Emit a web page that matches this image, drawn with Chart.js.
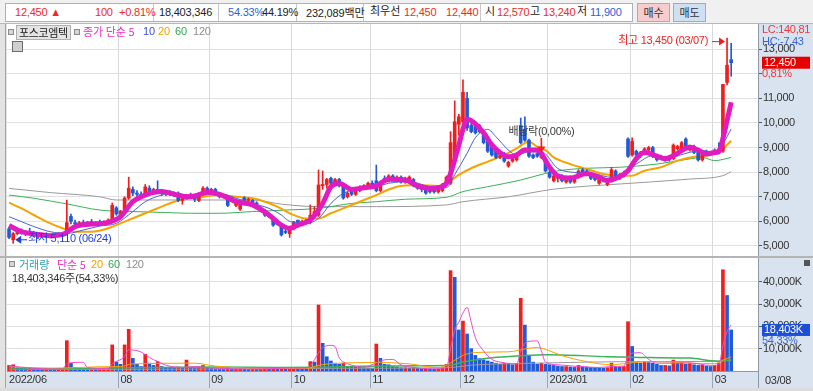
<!DOCTYPE html>
<html>
<head>
<meta charset="utf-8">
<script src="https://cdn.jsdelivr.net/npm/chart.js@4.4.0/dist/chart.umd.min.js"></script>
<style>
  body { margin: 0; width: 813px; height: 391px; overflow: hidden; position: relative; background: #ececec;
         font-family: 'Liberation Sans', 'Noto Sans CJK KR', sans-serif; font-size: 11px; letter-spacing: -0.2px; }
  .abs { position: absolute; white-space: nowrap; }
  #top { position: absolute; left: 0; top: 0; width: 813px; height: 23px; background: #f0f0f0; border-bottom: 1px solid #b8b8b8; }
  .fld { position: absolute; top: 3px; height: 17px; background: #fff; border: 1px solid #a9b3bf; }
  .sep { position: absolute; top: 4px; width: 1px; height: 17px; background: #c8c8c8; }
  .t { position: absolute; top: 6px; line-height: 13px; white-space: nowrap; }
  .r { color: #ee2a24; } .b { color: #2b5fd9; } .k { color: #222; }
  .btn { position: absolute; top: 3px; width: 31px; height: 17px; line-height: 17px; text-align: center; font-family: 'Noto Sans CJK KR', sans-serif; font-size: 11px; color: #333; }
  .kr { font-family: 'Noto Sans CJK KR', sans-serif; font-size: 11px; letter-spacing: 0; }
  .lg { position: absolute; line-height: 14px; font-size: 11px; white-space: nowrap; }
  .sq { position: absolute; width: 4px; height: 4px; border: 1px solid #8a8a8a; background: #d6d6d6; }
  canvas { position: absolute; left: 0; }
</style>
</head>
<body>
<div id="top">
  <div class="fld" style="left:5px;width:626px"></div>
  <div class="sep" style="left:153px"></div>
  <div class="sep" style="left:218px"></div>
  <div class="sep" style="left:296px"></div>
  <div class="sep" style="left:363px"></div>
  <div class="sep" style="left:480px"></div>
  <span class="t r" style="left:15px">12,450 ▲</span>
  <span class="t r" style="left:95px">100</span>
  <span class="t r" style="left:119px">+0.81%</span>
  <span class="t k" style="left:159px">18,403,346</span>
  <span class="t b" style="left:228px">54.33%</span>
  <span class="t k" style="left:262px">44.19%</span>
  <span class="t k" style="left:306px">232,089<span class="kr">백만</span></span>
  <span class="t k kr" style="left:370px;top:4px">최우선</span>
  <span class="t r" style="left:404px">12,450</span>
  <span class="t r" style="left:446px">12,440</span>
  <span class="t k kr" style="left:485px;top:4px">시</span>
  <span class="t r" style="left:497px">12,570</span>
  <span class="t k kr" style="left:530px;top:4px">고</span>
  <span class="t r" style="left:543px">13,240</span>
  <span class="t k kr" style="left:577px;top:4px">저</span>
  <span class="t b" style="left:590px">11,900</span>
  <div class="btn" style="left:637px;background:#f6cccc;border:1px solid #d59a9a">매수</div>
  <div class="btn" style="left:673px;background:#cfe0f3;border:1px solid #8fb0d6">매도</div>
</div>

<canvas id="price" width="813" height="232" style="top:24px"></canvas>
<div class="abs" style="left:0;top:256px;width:813px;height:2px;background:#b4b4b4"></div>
<canvas id="volume" width="813" height="130" style="top:258px"></canvas>
<div class="abs" style="left:0;top:388px;width:813px;height:3px;background:#dcdcdc"></div>

<!-- price panel legend -->
<div class="sq" style="left:8px;top:29px"></div>
<div class="lg kr" style="left:16px;top:25px;height:13px;line-height:13px;padding:0 2px;background:#e4e4e4;border:1px solid #b0b0b0;color:#222;letter-spacing:-0.4px">포스코엠텍</div>
<div class="sq" style="left:74px;top:29px"></div>
<div class="lg kr" style="left:83px;top:24px;color:#e62ec8">종가 단순 5</div>
<div class="lg" style="left:143px;top:24px;color:#3553c9">10</div>
<div class="lg" style="left:158px;top:24px;color:#f0a000">20</div>
<div class="lg" style="left:175px;top:24px;color:#2fa84f">60</div>
<div class="lg" style="left:193px;top:24px;color:#8c8c8c">120</div>
<div class="abs" style="left:12px;top:41px;width:9px;height:9px;border:1px solid #6e6e6e;background:#cfcfcf"></div>

<!-- volume panel legend -->
<div class="sq" style="left:9px;top:261px"></div>
<div class="lg kr" style="left:19px;top:257px;color:#2f9fae">거래량</div>
<div class="lg kr" style="left:57px;top:257px;color:#e62ec8">단순 5</div>
<div class="lg" style="left:91px;top:257px;color:#f0a000">20</div>
<div class="lg" style="left:108px;top:257px;color:#2fa84f">60</div>
<div class="lg" style="left:126px;top:257px;color:#8c8c8c">120</div>
<div class="lg" style="left:12px;top:270px;color:#333">18,403,346<span class="kr">주</span>(54,33%)</div>
<div class="abs" style="left:804px;top:260px;width:6px;height:6px;background:#555"></div>

<script>
const FONT = "'Liberation Sans', 'Noto Sans CJK KR', sans-serif";
const RED = '#f01e1e';
const BLUE = '#1f5ad8';

// trading days 2022-06-23 .. 2023-03-08 (KRX holidays removed)
const holidays = ['2022-08-15', '2022-09-09', '2022-09-12', '2022-10-03', '2022-10-10',
  '2022-12-30', '2023-01-23', '2023-01-24', '2023-03-01'];
const dates = [];
for (let d = new Date(Date.UTC(2022, 5, 23)); d <= new Date(Date.UTC(2023, 2, 8)); d.setUTCDate(d.getUTCDate() + 1)) {
  const iso = d.toISOString().slice(0, 10);
  const wd = d.getUTCDay();
  if (wd === 0 || wd === 6 || holidays.includes(iso)) continue;
  dates.push(iso);
}
const emptySlots = ['e1', 'e2', 'e3', 'e4', 'e5', 'e6'];
const labels = dates.concat(emptySlots);

// daily candles (KRW) and volume (thousand shares)
const open = [
  5700, 5250, 5500, 5600, 5500, 5600, 5500, 5450, 5400, 5480, 5380, 5430, 5450, 5420, 5550, 6200, 5950, 5880, 5950, 5900,
  6000, 5920, 5960, 5900, 5990, 6050, 6550, 6300, 6450, 6950, 7300, 7150, 7100, 7050, 7350, 7200, 7300, 7200, 7150, 7200,
  7100, 7150, 6850, 6950, 7050, 7000, 6850, 7100, 7350, 7250, 7300, 7100, 7000, 7000, 6950, 6650, 6500, 6950, 6850, 6850,
  6750, 6550, 6450, 6300, 6050, 5950, 5800, 5600, 5500, 5700, 6050, 5950, 6050, 5950, 6250, 6250, 7450, 7500, 7750, 7550,
  7700, 7450, 7000, 7250, 7100, 7250, 7400, 7400, 7550, 7650, 7250, 7750, 7650, 7850, 7650, 7800, 7600, 7700, 7700, 7450,
  7400, 7350, 7300, 7400, 7200, 7250, 7500, 7550, 8500, 9950, 10050, 11000, 9900, 9950, 9900, 9500, 9250, 9100, 8900, 8600,
  8750, 8250, 8450, 8500, 9900, 9750, 9300, 8700, 8750, 8600, 8500, 8000, 7650, 7750, 7850, 7600, 7800, 7600, 7800, 8100,
  8050, 7900, 7800, 7550, 7750, 7500, 7650, 8050, 7750, 7950, 9350, 8700, 8850, 8700, 8750, 8900, 9000, 8650, 8650, 8500,
  8600, 8550, 8950, 8900, 9350, 8900, 9050, 8850, 8500, 8850, 8750, 8900, 8950, 8850, 11650, 12570
];
const high = [
  5750, 5550, 5650, 5700, 5620, 5720, 5600, 5550, 5520, 5500, 5480, 5500, 5550, 5520, 6870, 6300, 6050, 6000, 6050, 6000,
  6080, 6000, 6050, 6020, 6100, 6750, 6600, 6450, 7000, 7800, 7400, 7250, 7200, 7500, 7450, 7350, 7650, 7300, 7250, 7250,
  7200, 7200, 7000, 7100, 7150, 7050, 7150, 7410, 7400, 7350, 7350, 7150, 7100, 7050, 7000, 6900, 6850, 7000, 6950, 6900,
  6800, 6600, 6500, 6350, 6100, 6000, 5850, 5650, 5780, 6000, 6050, 6050, 6080, 6670, 6600, 8090, 8050, 7750, 7800, 7750,
  7750, 7500, 7200, 7300, 7350, 7450, 7500, 7600, 7650, 8290, 7650, 7850, 7900, 7900, 7850, 7850, 7800, 7850, 7750, 7500,
  7450, 7400, 7350, 7420, 7450, 7550, 7850, 9650, 10900, 10350, 11750, 11250, 10000, 10050, 9950, 9550, 9300, 9150, 8950, 8900,
  8800, 8450, 8650, 8800, 10200, 10250, 9350, 8750, 8800, 9380, 8550, 8100, 7900, 7900, 7900, 7850, 7850, 7800, 8100, 8150,
  8100, 7950, 7850, 7750, 7800, 7700, 8200, 8100, 7950, 8050, 9400, 9400, 8900, 8850, 9000, 9050, 9050, 8700, 8700, 8650,
  8650, 9150, 9100, 9250, 9400, 9100, 9100, 8900, 8850, 8900, 8850, 8950, 9200, 11570, 13450, 13240
];
const low = [
  5300, 5110, 5450, 5480, 5420, 5480, 5380, 5300, 5350, 5350, 5330, 5380, 5400, 5380, 5500, 5900, 5850, 5820, 5880, 5820,
  5900, 5850, 5880, 5870, 5950, 6000, 6250, 6200, 6400, 6900, 7050, 7000, 6980, 7000, 7150, 7100, 7150, 7050, 7050, 7050,
  7000, 6800, 6700, 6900, 6950, 6800, 6800, 7050, 7150, 7100, 7050, 6950, 6950, 6600, 6800, 6600, 6450, 6820, 6800, 6650,
  6600, 6400, 6200, 6150, 5800, 5850, 5400, 5500, 5350, 5650, 5900, 5880, 5900, 5900, 6200, 6200, 7300, 7350, 7450, 7500,
  7400, 6900, 6950, 7050, 7050, 7200, 7300, 7350, 7450, 7200, 7200, 7600, 7600, 7700, 7600, 7550, 7550, 7650, 7400, 7300,
  7200, 7100, 7150, 7150, 7150, 7200, 7450, 7500, 8400, 9500, 10000, 9700, 9600, 9550, 9600, 9150, 8800, 8650, 8550, 8550,
  8400, 8200, 8400, 8450, 9150, 9250, 8600, 8550, 8600, 8550, 8000, 7750, 7600, 7600, 7600, 7550, 7550, 7550, 7750, 7900,
  7850, 7700, 7650, 7500, 7600, 7450, 7600, 7700, 7700, 7800, 8600, 8650, 8650, 8600, 8700, 8850, 8600, 8450, 8500, 8450,
  8450, 8500, 8900, 8850, 9000, 8850, 8750, 8450, 8450, 8700, 8700, 8750, 8850, 8800, 11550, 11900
];
const close = [
  5350, 5500, 5600, 5520, 5580, 5500, 5420, 5400, 5480, 5380, 5430, 5450, 5420, 5500, 5950, 6000, 5900, 5950, 5920, 5980,
  5930, 5960, 5900, 5990, 6050, 6650, 6300, 6400, 6950, 7350, 7150, 7100, 7050, 7400, 7200, 7300, 7200, 7150, 7200, 7100,
  7150, 6850, 6950, 7050, 7000, 6900, 7100, 7350, 7250, 7300, 7100, 7000, 7050, 6650, 6850, 6850, 6800, 6850, 6900, 6700,
  6650, 6450, 6250, 6200, 5850, 5880, 5450, 5550, 5750, 5980, 5950, 6000, 5950, 6250, 6400, 7480, 7500, 7700, 7550, 7700,
  7450, 6950, 7150, 7100, 7300, 7400, 7450, 7550, 7500, 7250, 7600, 7650, 7850, 7700, 7800, 7600, 7750, 7800, 7450, 7350,
  7300, 7150, 7200, 7200, 7350, 7400, 7800, 9200, 10050, 10250, 11250, 9800, 9650, 9600, 9650, 9200, 8850, 8700, 8600, 8850,
  8450, 8400, 8600, 8750, 9200, 9300, 8650, 8600, 8650, 8800, 8050, 7800, 7850, 7850, 7650, 7800, 7600, 7750, 8050, 7950,
  7900, 7750, 7700, 7700, 7650, 7650, 8100, 7750, 7900, 7850, 8650, 9250, 8700, 8800, 8950, 9000, 8650, 8500, 8550, 8600,
  8500, 9100, 9050, 9200, 9050, 9050, 8800, 8500, 8800, 8750, 8800, 8800, 8900, 11570, 12350, 12450
];
const volume = [
  2500, 2800, 1500, 1200, 1100, 1300, 1000, 900, 800, 900, 700, 600, 700, 800, 13600, 3500, 1500, 1000, 900, 800,
  900, 700, 800, 900, 1200, 11700, 4000, 3000, 11700, 18700, 5700, 3000, 2000, 7500, 3500, 2500, 4200, 2000, 1500, 1400,
  1300, 1800, 1500, 4900, 1500, 1200, 1800, 2500, 1500, 1200, 1100, 1000, 800, 1500, 900, 900, 1000, 800, 700, 800,
  700, 900, 1100, 1000, 1400, 1000, 1500, 1000, 1300, 1600, 1200, 1000, 900, 4200, 4000, 29600, 12400, 6400, 4500, 3500,
  3000, 3500, 2000, 1800, 1800, 1600, 1500, 1400, 1300, 12100, 5700, 3000, 2800, 2000, 1800, 1500, 1500, 1300, 1400, 1200,
  1000, 1000, 900, 800, 900, 1200, 3000, 45000, 42000, 18400, 22400, 16600, 10000, 7000, 5500, 5000, 4500, 4000, 3500, 3000,
  3500, 3000, 2800, 3300, 32600, 20600, 7000, 4000, 3000, 3500, 3000, 2800, 2500, 2200, 2000, 2000, 1800, 1600, 2500, 2000,
  1800, 1600, 1500, 1400, 1300, 1500, 3500, 2000, 1800, 2000, 22100, 11000, 3900, 3500, 4000, 3800, 3500, 3000, 2500, 2500,
  2300, 4900, 3500, 4200, 3000, 3500, 2800, 2500, 2600, 2200, 2000, 2500, 3500, 45400, 33873, 18403
];

// moving averages: [day index, value]
const ma5 = [[0, 5830], [3, 5580], [6, 5490], [10, 5420], [13, 5470], [16, 5790], [20, 5890], [24, 5960], [27, 6190],
  [30, 6800], [33, 7070], [37, 7210], [40, 7110], [43, 7000], [45, 7030], [48, 7180], [51, 7100], [55, 6800], [59, 6670],
  [63, 6260], [66, 5850], [68, 5720], [70, 5850], [73, 6060], [76, 6730], [78, 7410], [80, 7550], [83, 7300], [86, 7370],
  [89, 7440], [92, 7710], [96, 7680], [99, 7440], [102, 7340], [104, 7370], [106, 7550], [107, 7950], [108, 8500],
  [109, 9100], [110, 9750], [111, 10150], [112, 10100], [115, 9600], [117, 9110], [119, 8790], [121, 8630], [123, 8700],
  [125, 8900], [128, 8900], [129, 8750], [131, 8200], [133, 7850], [136, 7760], [140, 7950], [143, 7790], [145, 7660],
  [148, 7820], [150, 8060], [152, 8550], [154, 8810], [157, 8650], [159, 8540], [161, 8670], [165, 9010], [167, 8900],
  [169, 8740], [171, 8800], [172, 8830], [173, 9370], [174, 10090], [175, 10840]];
const ma10 = [[0, 6190], [3, 5990], [6, 5790], [10, 5580], [14, 5510], [18, 5650], [22, 5810], [26, 5920], [30, 6400],
  [33, 6800], [37, 7070], [40, 7140], [43, 7070], [47, 7070], [51, 7140], [55, 6940], [59, 6730], [63, 6530], [66, 6260],
  [68, 6000], [72, 5920], [75, 6120], [78, 6730], [81, 7140], [86, 7340], [89, 7410], [92, 7550], [97, 7620], [102, 7410],
  [106, 7370], [108, 7900], [111, 8770], [113, 9400], [116, 9740], [118, 9440], [121, 8900], [123, 8700], [126, 8830],
  [129, 8830], [133, 8150], [137, 7990], [142, 7930], [146, 7790], [149, 7990], [152, 8330], [156, 8670], [160, 8600],
  [165, 8810], [168, 8880], [171, 8810], [173, 9150], [175, 9760]];
const ma20 = [[0, 6760], [3, 6530], [6, 6260], [10, 5920], [13, 5720], [16, 5580], [20, 5580], [24, 5720], [28, 5990],
  [33, 6330], [37, 6600], [40, 6800], [44, 6940], [47, 7000], [51, 7070], [55, 7000], [59, 6940], [62, 6800], [65, 6600],
  [68, 6330], [72, 6120], [75, 6120], [78, 6330], [81, 6530], [85, 6800], [88, 7000], [94, 7410], [99, 7480], [104, 7440],
  [106, 7550], [109, 7890], [112, 8160], [116, 8430], [120, 8700], [123, 8970], [126, 9240], [128, 9040], [130, 8900],
  [132, 8600], [136, 8330], [140, 8130], [144, 7930], [148, 7860], [151, 7860], [154, 8060], [158, 8200], [162, 8470],
  [166, 8630], [169, 8670], [172, 8810], [175, 9280]];
const ma60 = [[0, 7070], [6, 6940], [14, 6710], [22, 6460], [30, 6400], [38, 6360], [44, 6330], [51, 6330], [59, 6400],
  [67, 6460], [75, 6530], [83, 6730], [89, 6800], [96, 6900], [106, 6980], [110, 7210], [116, 7410], [124, 7680],
  [130, 7950], [134, 8080], [140, 8160], [148, 8200], [157, 8330], [165, 8540], [168, 8600], [171, 8470], [175, 8600]];
const ma120 = [[0, 7340], [10, 7170], [22, 7000], [26, 6870], [43, 6870], [59, 6870], [66, 6700], [75, 6600], [89, 6600],
  [106, 6670], [110, 6800], [121, 7000], [132, 7310], [148, 7520], [165, 7720], [173, 7860], [175, 8020]];

const volMa5 = [[0, 2200], [4, 1500], [8, 1000], [13, 900], [14, 3300], [18, 3900], [19, 1500], [24, 1100], [25, 3200],
  [28, 6500], [29, 9500], [32, 8500], [34, 6000], [36, 4300], [38, 2600], [42, 1600], [45, 2000], [48, 1500], [52, 1100],
  [58, 900], [64, 1100], [68, 1300], [72, 1300], [73, 2200], [75, 8100], [76, 10500], [78, 11500], [79, 11000], [80, 6000],
  [82, 3300], [86, 1700], [89, 3600], [91, 5000], [93, 5200], [95, 2700], [98, 1600], [102, 1000], [105, 1000], [106, 1400],
  [107, 10000], [108, 18300], [109, 21900], [110, 26000], [111, 28500], [112, 21900], [113, 15000], [115, 9000], [117, 5200],
  [119, 4000], [122, 3200], [123, 3100], [124, 9000], [125, 12400], [126, 13300], [128, 13500], [129, 9000], [130, 4000],
  [133, 2800], [138, 2000], [143, 1600], [146, 2000], [149, 2200], [150, 6300], [151, 8000], [153, 8200], [155, 5200],
  [157, 3500], [161, 3500], [165, 3600], [170, 2500], [172, 2900], [173, 11300], [174, 17600], [175, 20700]];
const volMa20 = [[0, 1900], [10, 1300], [16, 1500], [22, 1900], [27, 2000], [30, 3200], [45, 3500], [50, 2200], [60, 1200],
  [72, 1100], [75, 2500], [78, 3300], [90, 3800], [97, 3200], [104, 1500], [107, 3700], [110, 7000], [113, 8300],
  [121, 8600], [126, 10200], [128, 10500], [131, 9000], [134, 6900], [140, 4200], [146, 2800], [150, 3500], [155, 4200],
  [162, 3900], [168, 3300], [171, 3300], [173, 4900], [175, 6300]];
const volMa60 = [[0, 900], [20, 1100], [30, 1500], [50, 1800], [65, 1600], [75, 1700], [85, 2100], [100, 2400],
  [107, 2600], [110, 4000], [115, 5500], [124, 6800], [130, 7300], [134, 7200], [145, 6400], [155, 6000], [165, 5800],
  [170, 4600], [172, 4400], [175, 5200]];
const volMa120 = [[0, 600], [40, 800], [80, 1200], [107, 1600], [112, 2600], [130, 3600], [150, 4200], [170, 4300],
  [175, 4700]];

const priceTicks = [5000, 6000, 7000, 8000, 9000, 10000, 11000, 12000, 13000];
const volTicks = [10000, 20000, 30000, 40000];
const exDividendDate = '2022-12-28';

// ---- helpers ----
const fmt = (v) => v.toLocaleString('en-US');
const md = (iso) => iso.slice(5).replace('-', '/');
const candleColor = close.map((c, i) => (c >= open[i] ? RED : BLUE));
const volColor = volume.map((v, i) => (i === 0 || v >= volume[i - 1] ? RED : BLUE));

// month labels on the bottom axis (a label is dropped when too close to the previous one)
const axisText = {};
let lastShown = -99;
dates.forEach((d, i) => {
  if (i > 0 && d.slice(0, 7) === dates[i - 1].slice(0, 7)) return;
  if (i - lastShown < 10) return;
  const newYear = lastShown < 0 || d.slice(0, 4) !== dates[lastShown].slice(0, 4);
  axisText[i] = newYear ? d.slice(0, 4) + '/' + d.slice(5, 7) : d.slice(5, 7);
  lastShown = i;
});
const isMonthLine = (i) => i > 0 && axisText[i] !== undefined;

function maLine(points, color, width, order) {
  return {
    type: 'line',
    data: points.map(([i, v]) => ({ x: labels[i], y: v })),
    borderColor: color,
    borderWidth: width,
    pointRadius: 0,
    cubicInterpolationMode: 'monotone',
    order: order,
  };
}

const panelBg = {
  id: 'panelBg',
  beforeDraw(chart) {
    const { ctx, chartArea: a, width, height } = chart;
    ctx.letterSpacing = '-0.3px';
    ctx.save();
    ctx.fillStyle = '#d8e3ef';
    ctx.fillRect(0, 0, width, height);
    ctx.fillStyle = '#ffffff';
    ctx.fillRect(a.left, a.top, a.right - a.left, a.bottom - a.top);
    ctx.fillStyle = '#e3e3e3';
    ctx.fillRect(0, 0, a.left, height);
    ctx.fillStyle = '#a5a5a5';
    ctx.fillRect(a.left - 2, 0, 1, height);
    ctx.restore();
  },
};

const xGrid = {
  offset: true,
  color: (c) => (isMonthLine(c.index) ? '#d9d9d9' : 'transparent'),
};

function zeroPad(s) {
  s.paddingTop = 0;
  s.paddingBottom = 0;
  s.paddingLeft = 0;
  s.paddingRight = 0;
}

// ---- price panel ----
const last = close.length - 1;
const hiIdx = high.indexOf(Math.max(...high));
const loIdx = low.indexOf(Math.min(...low));
const divIdx = dates.indexOf(exDividendDate);

const priceOverlay = {
  id: 'priceOverlay',
  afterDraw(chart) {
    const { ctx, chartArea: a, scales: { x, y } } = chart;
    ctx.save();
    ctx.font = '11px ' + FONT;
    ctx.textBaseline = 'middle';

    // highest
    const hx = x.getPixelForValue(hiIdx);
    const hy = y.getPixelForValue(high[hiIdx]) + 3;
    ctx.fillStyle = RED;
    ctx.strokeStyle = RED;
    ctx.lineWidth = 1;
    ctx.textAlign = 'right';
    ctx.fillText('최고 ' + fmt(high[hiIdx]) + ' (' + md(dates[hiIdx]) + ')', hx - 19, hy);
    ctx.beginPath(); ctx.moveTo(hx - 15, hy + 0.5); ctx.lineTo(hx - 7, hy + 0.5); ctx.stroke();
    ctx.beginPath(); ctx.moveTo(hx - 2, hy + 0.5); ctx.lineTo(hx - 8, hy - 3.5); ctx.lineTo(hx - 8, hy + 4.5); ctx.fill();

    // lowest
    const lx = x.getPixelForValue(loIdx);
    const ly = y.getPixelForValue(low[loIdx]) - 4;
    ctx.fillStyle = '#1f3fd8';
    ctx.strokeStyle = '#1f3fd8';
    ctx.textAlign = 'left';
    ctx.beginPath(); ctx.moveTo(lx + 7, ly + 0.5); ctx.lineTo(lx + 14, ly + 0.5); ctx.stroke();
    ctx.beginPath(); ctx.moveTo(lx + 2, ly + 0.5); ctx.lineTo(lx + 8, ly - 3.5); ctx.lineTo(lx + 8, ly + 4.5); ctx.fill();
    ctx.fillText('최저 ' + fmt(low[loIdx]) + ' (' + md(dates[loIdx]) + ')', lx + 15, ly);

    // ex-dividend marker
    const dx = x.getPixelForValue(divIdx);
    const dy = y.getPixelForValue(close[divIdx]);
    ctx.fillStyle = '#f02020';
    ctx.beginPath(); ctx.moveTo(dx - 4, dy - 6); ctx.lineTo(dx + 4, dy - 6); ctx.lineTo(dx, dy); ctx.fill();
    ctx.fillStyle = '#3a3a3a';
    ctx.textAlign = 'center';
    ctx.fillText('배당락(0,00%)', dx, dy - 21);

    // right axis info
    ctx.textAlign = 'left';
    ctx.fillStyle = '#e83a3a';
    ctx.fillText('LC:140,81', a.right + 4, 6);
    ctx.fillStyle = '#3a66d6';
    ctx.fillText('HC:-7,43', a.right + 4, 18);
    const cy = y.getPixelForValue(close[last]);
    ctx.fillStyle = '#e60000';
    ctx.fillRect(a.right + 4, cy - 6, 48, 12);
    ctx.fillStyle = '#ffffff';
    ctx.fillText(fmt(close[last]), a.right + 6, cy);
    const chg = ((close[last] - close[last - 1]) / close[last - 1]) * 100;
    ctx.fillStyle = '#e83a3a';
    ctx.fillText(chg.toFixed(2).replace('.', ',') + '%', a.right + 4, cy + 11);
    ctx.restore();
  },
};

new Chart(document.getElementById('price'), {
  type: 'bar',
  data: {
    labels: labels,
    datasets: [
      maLine(ma120, '#9a9a9a', 1, 6),
      maLine(ma60, '#3db05a', 1, 5),
      maLine(ma20, '#f5a300', 2, 4),
      {
        type: 'bar', data: low.map((l, i) => [l, high[i]]), backgroundColor: candleColor,
        barThickness: 1, grouped: false, order: 3,
      },
      {
        type: 'bar', data: open.map((o, i) => [o, close[i]]), backgroundColor: candleColor,
        barThickness: 3, grouped: false, minBarLength: 1, order: 2,
      },
      maLine(ma10, '#4a64cf', 1, 1),
      maLine(ma5, '#e01cc0', 5, 0),
    ],
  },
  options: {
    responsive: false,
    animation: false,
    layout: { padding: { left: 7, right: 0, top: 0, bottom: 0 } },
    plugins: { legend: { display: false }, tooltip: { enabled: false } },
    scales: {
      x: {
        offset: true,
        grid: { ...xGrid, drawTicks: false },
        ticks: { display: false },
        border: { display: false },
        afterFit: (s) => { s.height = 0; zeroPad(s); },
      },
      y: {
        position: 'right',
        min: 4593,
        max: 14024,
        afterBuildTicks: (s) => { s.ticks = priceTicks.map((v) => ({ value: v })); },
        afterFit: (s) => { s.width = 55; zeroPad(s); },
        grid: { color: '#e1e1e1', tickColor: '#5a5a5a', tickLength: 4 },
        border: { color: '#8c98a6' },
        ticks: {
          color: '#333', padding: 1, font: { family: FONT, size: 11 },
          // the label under the last-price badge is hidden
          callback: (v) => (Math.abs(v - close[last]) < 500 ? '' : fmt(v)),
        },
      },
    },
  },
  plugins: [panelBg, priceOverlay],
});

// ---- volume panel ----
const volOverlay = {
  id: 'volOverlay',
  afterDraw(chart) {
    const { ctx, chartArea: a, scales: { y }, height } = chart;
    ctx.save();
    ctx.font = '11px ' + FONT;
    ctx.textBaseline = 'middle';
    ctx.textAlign = 'left';
    const cy = y.getPixelForValue(volume[last]);
    ctx.fillStyle = '#1c4fd6';
    ctx.fillRect(a.right + 4, cy - 6, 48, 12);
    ctx.fillStyle = '#ffffff';
    ctx.fillText(fmt(volume[last]) + 'K', a.right + 6, cy);
    ctx.fillStyle = '#3a66d6';
    const ratio = (volume[last] / volume[last - 1]) * 100;
    ctx.fillText(ratio.toFixed(2).replace('.', ',') + '%', a.right + 4, cy + 11);
    // last date in the axis band
    ctx.fillStyle = '#8c98a6';
    ctx.fillRect(a.right, a.bottom, 1, height - a.bottom);
    ctx.fillStyle = '#333';
    ctx.fillText(md(dates[last]), a.right + 7, (a.bottom + height) / 2 + 1);
    ctx.restore();
  },
};

new Chart(document.getElementById('volume'), {
  type: 'bar',
  data: {
    labels: labels,
    datasets: [
      maLine(volMa120, '#9a9a9a', 1, 4),
      maLine(volMa60, '#3db05a', 1.5, 3),
      maLine(volMa20, '#f5a300', 1, 2),
      maLine(volMa5, '#e84ccf', 1, 1),
      { type: 'bar', data: volume, backgroundColor: volColor, barThickness: 3, order: 5 },
    ],
  },
  options: {
    responsive: false,
    animation: false,
    layout: { padding: { left: 7, right: 0, top: 0, bottom: 0 } },
    plugins: { legend: { display: false }, tooltip: { enabled: false } },
    scales: {
      x: {
        offset: true,
        grid: {
          ...xGrid,
          tickColor: (c) => (isMonthLine(c.index) ? '#9aa6b4' : 'transparent'),
          tickLength: 17,
        },
        border: { color: '#8c98a6' },
        ticks: {
          autoSkip: false, maxRotation: 0, minRotation: 0, align: 'start', padding: -15,
          color: '#333', font: { family: FONT, size: 11 },
          callback: (v, i) => axisText[i] || '',
        },
        afterFit: (s) => { s.height = 17; zeroPad(s); },
      },
      y: {
        position: 'right',
        min: 0,
        max: 50670,
        afterBuildTicks: (s) => { s.ticks = volTicks.map((v) => ({ value: v })); },
        afterFit: (s) => { s.width = 55; zeroPad(s); },
        grid: { color: '#e1e1e1', tickColor: '#5a5a5a', tickLength: 4 },
        border: { color: '#8c98a6' },
        ticks: { color: '#333', padding: 1, font: { family: FONT, size: 11 }, callback: (v) => fmt(v) + 'K' },
      },
    },
  },
  plugins: [panelBg, volOverlay],
});
</script>
</body>
</html>
